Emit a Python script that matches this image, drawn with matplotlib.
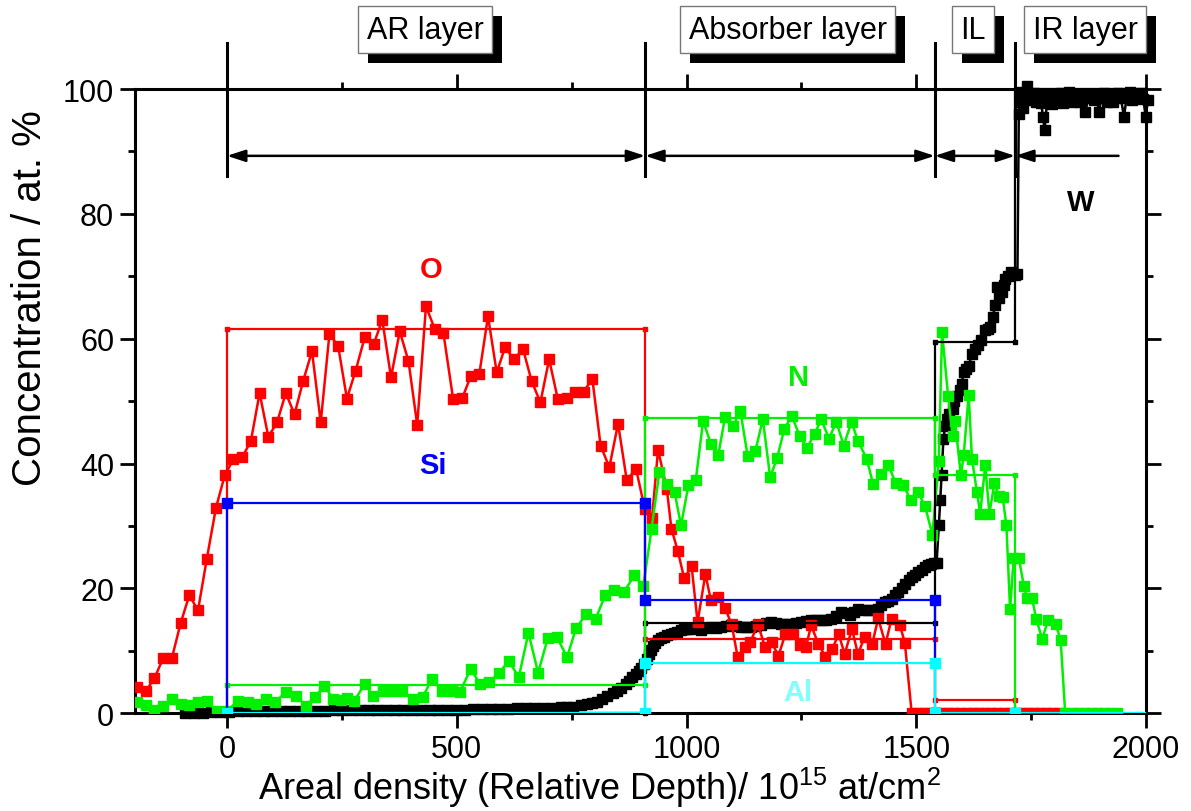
import matplotlib.pyplot as plt
from matplotlib import transforms
from matplotlib.patches import Rectangle
from matplotlib.ticker import MultipleLocator

plt.rcParams['font.family'] = ['Liberation Sans', 'DejaVu Sans']
plt.rcParams['mathtext.fontset'] = 'custom'
plt.rcParams['mathtext.rm'] = 'Liberation Sans'

# ---- measured depth profiles (areal density in 1e15 at/cm2, concentration in at.%) ----
o_depth = [-196, -177, -158, -139, -120, -101, -82, -63, -44, -24, -5,
           14, 33, 52, 71, 90, 109, 128, 147, 166, 185,
           204, 223, 242, 261, 280, 300, 319, 338, 357, 376,
           395, 414, 433, 452, 471,
           492, 512, 531, 549, 568, 587, 605, 625, 644, 663,
           682, 701, 720, 739, 757, 776, 795, 813, 832, 851,
           870, 890, 909, 925, 938, 957, 967, 981, 995, 1011,
           1024, 1041, 1053, 1069, 1084, 1098, 1111, 1127, 1139, 1155,
           1171, 1185, 1200, 1215, 1231, 1246, 1260, 1271, 1287, 1302,
           1317, 1331, 1344, 1360, 1373, 1388, 1404, 1417, 1433, 1446,
           1464, 1475,
           1490, 1503, 1516, 1530, 1543, 1556, 1570, 1583, 1596, 1610,
           1623, 1636, 1650, 1663, 1676, 1690, 1703, 1716, 1730, 1743,
           1756, 1770, 1783, 1796, 1810]
o_conc = [4.2, 3.5, 5.6, 8.8, 8.8, 14.4, 18.9, 16.5, 24.7, 32.9, 38.1,
          40.7, 41.0, 43.6, 51.3, 44.3, 46.6, 51.3, 47.9, 53.3, 58.0,
          46.6, 60.8, 58.8, 50.4, 54.9, 60.3, 59.1, 63.0, 53.8, 61.2,
          56.4, 46.2, 65.2, 61.6, 60.9,
          50.4, 50.5, 54.1, 54.3, 63.6, 54.6, 58.6, 56.7, 58.4, 53.2,
          49.8, 56.7, 50.3, 50.5, 51.5, 51.5, 53.6, 42.9, 39.4, 46.4,
          37.3, 39.2, 32.8, 31.3, 42.2, 36.0, 29.6, 26.0, 21.6, 23.6,
          14.6, 22.3, 18.1, 18.6, 16.8, 14.3, 9.1, 10.6, 11.4, 14.3,
          10.6, 11.4, 9.2, 12.7, 12.7, 11.0, 10.6, 14.1, 11.1, 9.1,
          10.3, 12.7, 9.5, 13.5, 9.5, 12.3, 11.1, 15.2, 11.1, 15.1,
          14.2, 11.3,
          0, 0, 0, 0, 0, 0, 0, 0, 0, 0,
          0, 0, 0, 0, 0, 0, 0, 0, 0, 0,
          0, 0, 0, 0, 0]

n_depth = [-196, -177, -158, -139, -120, -101, -82, -63, -44, -21, 0,
           23, 45, 63, 85, 104, 129, 151, 171, 191, 212,
           231, 249, 262, 276, 300, 318, 340, 360, 380, 405,
           426, 446, 467, 489, 507, 530, 551, 571, 593, 613,
           635, 656, 677, 698, 718, 740, 760, 782, 802, 823,
           843, 864, 886, 906, 924, 941, 957, 974, 988, 1004,
           1020, 1036, 1053, 1069, 1084, 1102, 1117, 1133, 1150, 1166,
           1182, 1197, 1213, 1229, 1246, 1262, 1279, 1293, 1310, 1326,
           1342, 1359, 1373, 1392, 1406, 1423, 1439, 1455, 1472, 1488,
           1503, 1519, 1535, 1549, 1556, 1569, 1579, 1584, 1597, 1603,
           1614, 1621, 1632, 1639, 1650, 1659, 1670, 1679, 1688, 1696,
           1704, 1712, 1723, 1734, 1741, 1752, 1761, 1774, 1787, 1803,
           1814, 1824, 1838, 1852, 1866, 1880, 1894, 1908, 1922, 1936]
n_conc = [1.8, 1.3, 0.5, 1.2, 2.3, 1.5, 1.4, 1.8, 2.0, 0.3, 0.3,
          2.0, 1.8, 1.5, 2.3, 1.8, 3.4, 2.8, 1.2, 2.6, 4.4,
          2.3, 2.2, 2.5, 1.9, 4.7, 2.8, 3.5, 3.6, 3.6, 2.3,
          2.6, 5.5, 3.6, 3.6, 3.4, 7.1, 4.7, 5.0, 6.5, 8.4,
          5.8, 12.9, 6.5, 12.0, 12.2, 9.0, 13.7, 15.9, 15.1, 18.9,
          19.7, 19.4, 22.1, 20.4, 29.6, 38.7, 36.7, 35.4, 30.1, 36.5,
          37.3, 46.8, 43.2, 41.4, 47.5, 46.1, 48.5, 41.2, 42.1, 47.1,
          37.8, 40.9, 45.6, 47.6, 44.5, 42.5, 44.8, 47.1, 44.0, 46.7,
          42.9, 46.7, 43.6, 40.8, 36.7, 38.3, 39.8, 36.9, 36.6, 34.1,
          35.5, 33.2, 28.6, 40.4, 61.1, 50.9, 44.5, 46.9, 38.1, 41.3,
          51.0, 40.8, 35.4, 32.0, 39.7, 32.0, 36.9, 34.8, 34.6, 30.1,
          16.7, 24.9, 24.9, 20.4, 18.4, 18.4, 15.1, 11.9, 15.0, 14.3,
          11.8, 0, 0, 0, 0, 0, 0, 0, 0, 0]

w_depth = [-91, -72, -53, -34, -15, 4, 23, 42, 61, 80,
           99, 118, 137, 156, 175, 194, 213, 232, 251, 270,
           289, 308, 327, 346, 365, 384, 403, 422, 441, 460,
           479, 498, 517, 536, 555, 574, 593, 612, 631, 650,
           669, 688, 707, 726, 740, 754, 770, 784, 795, 806,
           817, 828, 839, 849, 858, 868, 875, 882, 890, 897,
           902, 907, 913, 918, 922, 926, 931, 937, 944, 951,
           958, 966, 973, 980, 988, 995, 1002, 1009, 1020, 1031,
           1042, 1053, 1064, 1074, 1085, 1096, 1107, 1118, 1129, 1140,
           1151, 1162, 1173, 1184, 1195, 1205, 1216, 1227, 1238, 1249,
           1260, 1271, 1282, 1293, 1304, 1315, 1326, 1337, 1346, 1355,
           1364, 1373, 1384, 1395, 1406, 1417, 1424, 1431, 1439, 1446,
           1454, 1461, 1468, 1475, 1483, 1490, 1497, 1504, 1512, 1519,
           1526, 1533, 1539, 1544, 1549, 1552, 1555, 1559, 1563, 1566,
           1572, 1579, 1583, 1588, 1594, 1599, 1603, 1609, 1614, 1621,
           1628, 1635, 1640, 1650, 1656, 1661, 1666, 1672, 1675, 1680,
           1686, 1690, 1694, 1700, 1705, 1710, 1715, 1720, 1723, 1725,
           1728, 1732, 1736, 1740, 1745, 1750, 1755, 1760, 1766, 1771,
           1776, 1779, 1785, 1790, 1796, 1802, 1808, 1814, 1820, 1826,
           1832, 1838, 1844, 1850, 1856, 1862, 1868, 1874, 1880, 1886,
           1892, 1897, 1903, 1909, 1915, 1921, 1927, 1933, 1939, 1945,
           1952, 1958, 1964, 1970, 1976, 1982, 1988, 1994, 1999, 2004]
w_conc = [0.0, 0.1, 0.1, 0.2, 0.2, 0.2, 0.3, 0.3, 0.3, 0.3,
          0.3, 0.4, 0.4, 0.4, 0.4, 0.4, 0.4, 0.5, 0.5, 0.5,
          0.5, 0.5, 0.5, 0.5, 0.5, 0.5, 0.6, 0.6, 0.6, 0.6,
          0.6, 0.6, 0.6, 0.7, 0.7, 0.7, 0.7, 0.7, 0.8, 0.8,
          0.8, 0.9, 0.9, 1.0, 1.0, 1.0, 1.3, 1.5, 1.6, 1.8,
          2.3, 2.8, 3.2, 3.6, 4.1, 4.7, 5.2, 5.8, 6.3, 6.8,
          7.3, 7.9, 8.7, 9.5, 10.2, 10.8, 11.3, 11.7, 12.0, 12.2,
          12.5, 12.7, 12.9, 13.1, 13.3, 13.5, 13.5, 13.5, 13.6, 13.4,
          13.6, 13.8, 13.7, 13.8, 14.0, 14.1, 14.0, 13.8, 13.9, 13.8,
          14.0, 14.1, 14.4, 14.6, 14.4, 14.3, 14.3, 14.3, 14.5, 14.6,
          14.8, 14.9, 15.0, 15.0, 15.0, 15.1, 15.6, 16.3, 16.0, 15.7,
          16.2, 16.7, 16.6, 16.5, 16.6, 16.7, 17.3, 17.8, 18.0, 18.3,
          18.9, 19.4, 20.1, 20.7, 21.3, 21.8, 22.2, 22.6, 23.0, 23.4,
          23.7, 23.9, 24.0, 24.0, 30.1, 34.1, 38.1, 44.0, 46.0, 47.2,
          48.0, 48.8, 50.0, 50.9, 51.8, 52.8, 54.7, 55.2, 55.7, 57.5,
          58.4, 59.0, 59.8, 61.4, 61.6, 61.9, 63.5, 65.4, 68.3, 66.5,
          67.5, 68.6, 69.6, 70.0, 70.7, 70.4, 70.2, 70.4, 96.0, 98.0,
          99.5, 97.0, 98.8, 100.5, 99.0, 98.2, 99.3, 98.0, 99.1, 97.8,
          95.6, 93.4, 98.5, 99.0, 97.6, 99.2, 98.5, 99.4, 97.8, 98.8,
          99.6, 98.0, 99.0, 98.4, 97.9, 99.0, 96.4, 98.5, 99.0, 98.2,
          99.1, 96.4, 98.6, 99.3, 98.0, 99.0, 97.9, 98.8, 99.4, 98.5,
          95.6, 98.9, 99.5, 98.2, 99.0, 98.6, 99.3, 98.4, 95.6, 98.2]

# ---- simulated layer model (step profiles) ----
o_step_x = [0, 0, 910, 910, 1540, 1540, 1715, 1715]
o_step_y = [0, 61.5, 61.5, 11.9, 11.9, 2.1, 2.1, 0]
n_step_x = [0, 0, 910, 910, 1540, 1540, 1715, 1715]
n_step_y = [0, 4.5, 4.5, 47.3, 47.3, 38.2, 38.2, 0]
si_step_x = [0, 0, 910, 910, 1540, 1540]
si_step_y = [0, 33.7, 33.7, 18.2, 18.2, 0]
al_step_x = [0, 910, 910, 1540, 1540, 1715, 2000]
al_step_y = [0, 0, 8.0, 8.0, 0, 0, 0]
w_step_x = [0, 910, 910, 1540, 1540, 1715, 1715, 2000]
w_step_y = [0, 0, 14.4, 14.4, 59.5, 59.5, 100, 100]

# layer boundaries and names
layer_edges = [0, 910, 1540, 1715]
ir_arrow_end = 1940
layer_names = ['AR layer', 'Absorber layer', 'IL', 'IR layer']
layer_label_x = [431, 1220, 1623, 1868]

element_labels = ['O', 'Si', 'N', 'Al', 'W']
element_label_x = [445, 448, 1244, 1242, 1857]
element_label_y = [71.2, 39.7, 53.9, 3.4, 81.9]

RED = '#ff0000'
GREEN = '#00f000'
BLUE = '#0000ff'
CYAN = '#00ffff'
element_colors = [RED, BLUE, GREEN, '#80ffff', 'black']

fig = plt.figure(figsize=(11.91, 8.12), dpi=100)
ax = fig.add_axes([0.1134, 0.1203, 0.8489, 0.7688])

# measured data
ax.plot(w_depth, w_conc, color='black', marker='s', ms=7, lw=1.8,
        zorder=3, clip_on=False)
ax.plot(o_depth, o_conc, color=RED, marker='s', ms=7, lw=1.8, zorder=4)
ax.plot(n_depth, n_conc, color=GREEN, marker='s', ms=7, lw=1.8, zorder=5)

# simulated steps
ax.plot(o_step_x, o_step_y, color=RED, marker='s', ms=3.5, lw=1.6, zorder=6)
ax.plot(w_step_x, w_step_y, color='black', marker='s', ms=3.5, lw=1.6,
        zorder=6, markevery=[1, 2, 3, 4, 5], clip_on=False)
ax.plot(n_step_x, n_step_y, color=GREEN, marker='s', ms=3.5, lw=1.6, zorder=7)
ax.plot(si_step_x, si_step_y, color=BLUE, marker='s', ms=7, lw=1.6, zorder=8)
ax.plot(al_step_x, al_step_y, color=CYAN, marker='s', ms=7, lw=1.6, zorder=9,
        markevery=[0, 1, 2, 3, 4, 5])

ax.set_xlim(-200, 2000)
ax.set_ylim(0, 100)
ax.xaxis.set_major_locator(MultipleLocator(500))
ax.xaxis.set_minor_locator(MultipleLocator(250))
ax.yaxis.set_major_locator(MultipleLocator(20))
ax.yaxis.set_minor_locator(MultipleLocator(10))
ax.tick_params(which='both', direction='out', top=True, right=True, width=2)
ax.tick_params(which='major', length=11, labelsize=22, pad=4)
ax.tick_params(which='minor', length=5)
for spine in ax.spines.values():
    spine.set_linewidth(2.2)

# layer boundary markers above the plot
arrow_y = 89.3
for x in layer_edges:
    ax.plot([x, x], [86, 107.3], color='black', lw=2.2, clip_on=False, zorder=10)

arrow_props = dict(arrowstyle='<|-|>,head_length=1.1,head_width=0.36',
                   mutation_scale=10, color='black', lw=1.8,
                   shrinkA=0, shrinkB=0)
for x0, x1 in zip(layer_edges[:-1], layer_edges[1:]):
    ax.annotate('', xy=(x1, arrow_y), xytext=(x0, arrow_y),
                arrowprops=arrow_props, zorder=10)
ax.annotate('', xy=(layer_edges[-1], arrow_y), xytext=(ir_arrow_end, arrow_y),
            arrowprops=dict(arrow_props, arrowstyle='-|>,head_length=1.1,head_width=0.36'),
            zorder=10)

# layer name boxes
name_boxes = []
for name, xc in zip(layer_names, layer_label_x):
    t = ax.text(xc, 109.5, name, fontsize=22, color='black',
                ha='center', va='center', clip_on=False, zorder=12,
                bbox=dict(boxstyle='square,pad=0.28', fc='white',
                          ec='#777777', lw=1))
    name_boxes.append(t)

# element labels
for label, x, y, c in zip(element_labels, element_label_x, element_label_y,
                          element_colors):
    ax.text(x, y, label, color=c, fontsize=21, fontweight='bold',
            ha='center', va='center', zorder=12)

fig.text(600 / 1191, 1 - 788 / 812,
         r'Areal density (Relative Depth)/ 10$^{\mathrm{15}}$ at/cm$^{\mathrm{2}}$',
         fontsize=26, ha='center', va='center')
fig.text(30 / 1191, 1 - 298 / 812, 'Concentration / at. %', fontsize=29,
         rotation=90, ha='center', va='center')

# drop shadows behind the name boxes (pixel offset 10 right, 10 down)
fig.canvas.draw()
renderer = fig.canvas.get_renderer()
for t in name_boxes:
    bb = t.get_bbox_patch().get_window_extent(renderer)
    ax.add_patch(Rectangle((bb.x0 + 10, bb.y0 - 10), bb.width, bb.height,
                           transform=transforms.IdentityTransform(),
                           fc='black', ec='none', clip_on=False, zorder=11))

fig.savefig('out.png', dpi=100)
